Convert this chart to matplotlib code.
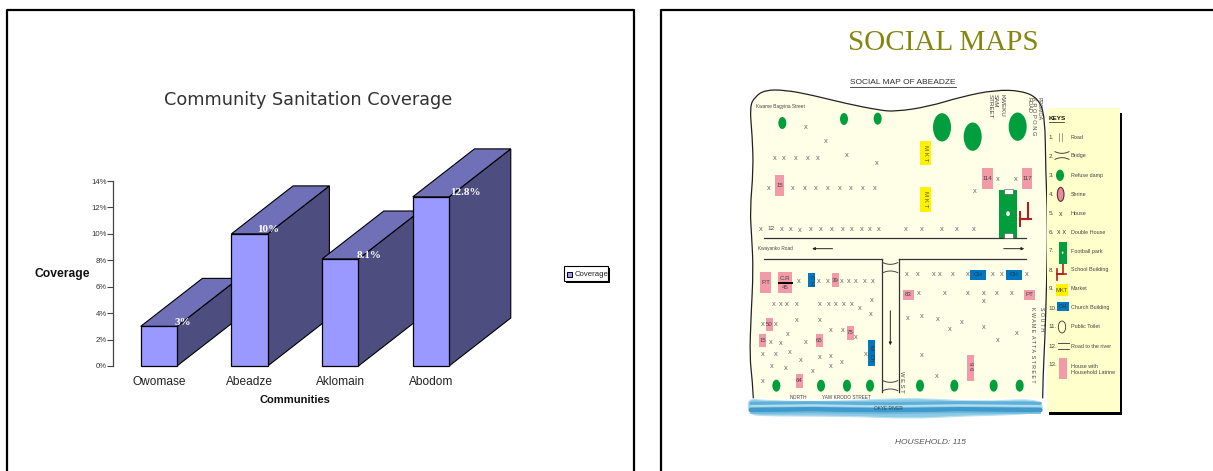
import matplotlib
matplotlib.use("Agg")
import numpy as np
import matplotlib.pyplot as plt
from matplotlib.patches import Ellipse, PathPatch, Polygon, Rectangle
from matplotlib.path import Path

plt.rcParams["font.family"] = ["Liberation Sans", "DejaVu Sans"]

# ---- sanitation coverage ----
communities = ["Owomase", "Abeadze", "Aklomain", "Abodom"]
coverage = [3, 10, 8.1, 12.8]
coverage_labels = ["3%", "10%", "8.1%", "12.8%"]
label_shift = [0.27, 0.21, 0.32, 0.38]
y_ticks = [0, 2, 4, 6, 8, 10, 12, 14]

# ---- social map, in map units; lower half and key rows carry their own offsets ----
houses_north = [(182, 172), (243, 214), (88, 266), (117, 266), (153, 266), (187, 266), (218, 266),
                (304, 256), (396, 281), (70, 356), (143, 355), (178, 355), (213, 355), (248, 355),
                (283, 355), (318, 355), (353, 355), (389, 355), (689, 365), (758, 328), (812, 328),
                (48, 478), (110, 478), (137, 478), (164, 481), (196, 478), (226, 478), (259, 478),
                (292, 478), (319, 478), (349, 478), (375, 478), (401, 478), (483, 478), (530, 478),
                (589, 478), (636, 478), (687, 478)]
houses_south = [(161, 95), (220, 95), (247, 95), (290, 95), (312, 95), (333, 95), (358, 95), (382, 95),
                (87, 164), (107, 164), (126, 164), (154, 164), (224, 164), (250, 164), (272, 164),
                (297, 164), (319, 164), (344, 176), (381, 152), (378, 194), (53, 224), (93, 224),
                (154, 212), (225, 212), (127, 254), (256, 241), (293, 241), (333, 262), (76, 278),
                (108, 281), (182, 278), (53, 314), (92, 314), (135, 308), (166, 332), (223, 323),
                (256, 320), (289, 338), (256, 350), (79, 350), (122, 356), (204, 365), (362, 314),
                (53, 395), (486, 74), (518, 74), (566, 74), (583, 74), (622, 74), (667, 74),
                (744, 74), (769, 74), (844, 74), (522, 131), (599, 131), (669, 131), (716, 131),
                (754, 131), (799, 131), (716, 155), (487, 206), (531, 200), (578, 209), (650, 218),
                (613, 239), (717, 233), (759, 272), (816, 251), (530, 317), (576, 380)]
dumps_north = [(112, 159, 24, 36), (297, 147, 24, 36), (398, 146, 24, 36),
               (591, 172, 54, 85), (683, 200, 54, 85), (818, 170, 54, 85)]
dumps_south = [(94, 407), (228, 407), (306, 407), (375, 407), (525, 407), (628, 407), (746, 407), (824, 407)]
latrines_north = [("15", 90, 315, 27, 63), ("114", 711, 294, 33, 63), ("117", 831, 294, 30, 63)]
latrines_south = [("P.T", 45, 66, 33, 63), ("39", 261, 69, 21, 42), ("83", 474, 120, 33, 30),
                  ("PT", 837, 120, 33, 30), ("50", 63, 204, 21, 39), ("15", 42, 252, 21, 39),
                  ("65", 213, 252, 21, 39), ("75", 306, 228, 21, 42), ("64", 153, 372, 21, 42)]
# boundary of the settlement, walked clockwise from the river on the west side
boundary = [(25, 985), (22, 930), (14, 860), (18, 740), (25, 600), (20, 500), (15, 420), (25, 300),
            (22, 200), (14, 110), (30, 80), (60, 60), (120, 60), (200, 75), (300, 100), (400, 120),
            (450, 125), (550, 110), (650, 80), (750, 60), (830, 62), (880, 85), (900, 140), (902, 300),
            (908, 450), (905, 640), (900, 800), (894, 920), (893, 985)]
key_names = ["Road", "Bridge", "Refuse damp", "Shrine", "House", "Double House", "Football park",
             "School Building", "Market", "Church Building", "Public Toilet", "Road to the river",
             "House with\nHousehold Latrine"]
key_rows = [112, 168, 226, 283, 340, 396, 453, 510, 567, 624, 681, 738, 808]
# vertical street lettering: column, top of the column, text, size
street_columns = [(735, 72, "STREET", 4.5), (752, 72, "SAM", 4.5), (770, 72, "KWEKU", 4.5),
                  (852, 81, "ROAD", 4.0), (867, 81, "K R O P O N G", 4.1), (882, 81, "PROMOA", 3.8),
                  (862, 710, "K W A M E  A T T A  S T R E E T", 3.75), (888, 710, "S O U T H", 3.75)]

W, H = 1213, 471
fig = plt.figure(figsize=(W / 100, H / 100), dpi=100, facecolor="white")

# page frames
page = fig.add_axes([0, 0, 1, 1], xlim=(0, W), ylim=(H, 0))
page.axis("off")
page.plot([7, 7, 634, 634], [H, 10, 10, H], color="black", lw=1.6)
page.plot([661, 661, W], [H, 10, 10], color="black", lw=1.6)
page.text(308, 100, "Community Sanitation Coverage", family="DejaVu Sans", fontsize=12.7,
          ha="center", va="center", color="#333333")
page.text(943, 42.5, "SOCIAL MAPS", family="Liberation Serif", fontsize=21,
          ha="center", va="center", color="#858510")

# legend of the bar chart
page.add_patch(Rectangle((565.5, 268), 44.5, 14.5, fc="black", ec="none"))
page.add_patch(Rectangle((563.5, 266), 44.5, 14.5, fc="white", ec="black", lw=0.8))
page.add_patch(Rectangle((567, 272), 5, 5, fc="#9999FF", ec="black", lw=0.7))
page.text(574.5, 274.3, "Coverage", fontsize=5.6, va="center", color="#222222")

# bar chart: the axis box covers the 0-14% scale and the four category slots
x_left, x_right, y_top, y_bottom = 113.5, 476.3, 181, 366
ax = fig.add_axes([x_left / W, 1 - y_bottom / H, (x_right - x_left) / W, (y_bottom - y_top) / H],
                  facecolor="none")
ax.set_xlim(-0.5, 3.5)
ax.set_ylim(0, 14)
for side in ("top", "right", "bottom"):
    ax.spines[side].set_visible(False)
ax.spines["left"].set_color("#444444")
ax.spines["left"].set_linewidth(0.9)
ax.set_yticks(y_ticks, [f"{t}%" for t in y_ticks], fontsize=5.6, color="#333333")
ax.tick_params(axis="y", length=4, width=0.8, color="#444444", pad=1)
ax.set_xticks(range(4), communities, fontsize=8.6, color="#222222")
ax.tick_params(axis="x", length=0, pad=7)
ax.set_xlabel("Communities", fontsize=8, fontweight="bold", labelpad=5.5, color="#111111")
ax.set_ylabel("Coverage", fontsize=8.7, fontweight="bold", rotation=0, labelpad=21, color="#111111",
              va="center")

half = 0.2
depth_x, depth_y = 0.68, 3.63
for i, (value, text, shift) in enumerate(zip(coverage, coverage_labels, label_shift)):
    l, r = i - half, i + half
    ax.add_patch(Polygon([(r, 0), (r + depth_x, depth_y), (r + depth_x, value + depth_y), (r, value)],
                         fc="#4D4D80", ec="black", lw=0.8, clip_on=False, zorder=3 + i))
    ax.add_patch(Polygon([(l, value), (r, value), (r + depth_x, value + depth_y), (l + depth_x, value + depth_y)],
                         fc="#7070B8", ec="black", lw=0.8, clip_on=False, zorder=3 + i))
    ax.add_patch(Rectangle((l, 0), 2 * half, value, fc="#9999FF", ec="black", lw=0.9,
                           clip_on=False, zorder=3 + i))
    ax.text(i + shift, value + 0.3, text, family="Liberation Serif", fontweight="bold", fontsize=8,
            color="white", ha="center", va="center", zorder=10)

# social map canvas
m = fig.add_axes([745 / W, 1 - 450 / H, 385 / W, 380 / H], xlim=(0, 1155), ylim=(1140, 0), facecolor="none")
m.axis("off")
SOUTH = 540            # vertical offset of the lower half of the map
KEY_X, KEY_Y = 825, 90  # offset of the key panel


def rounded(points, closed=False):
    """Quadratic curve through the midpoints of a control polygon."""
    pts = [np.asarray(p, float) for p in points]
    if closed:
        start = (pts[-1] + pts[0]) / 2
        verts, codes = [start], [Path.MOVETO]
        for k, p in enumerate(pts):
            verts += [p, (p + pts[(k + 1) % len(pts)]) / 2]
            codes += [Path.CURVE3, Path.CURVE3]
        return Path(verts, codes)
    verts, codes = [pts[0]], [Path.MOVETO]
    for k in range(1, len(pts) - 1):
        end = (pts[k] + pts[k + 1]) / 2 if k < len(pts) - 2 else pts[-1]
        verts += [pts[k], end]
        codes += [Path.CURVE3, Path.CURVE3]
    return Path(verts, codes)


def note(x, y, s, size=4.2, color="#444444", rot=0, ha="center", **kw):
    m.text(x, y, s, fontsize=size, color=color, rotation=rot, ha=ha, va="center",
           rotation_mode="anchor", **kw)


def block(x, y, w, h, color):
    m.add_patch(Rectangle((x, y), w, h, fc=color, ec="none", zorder=2))


def school(x, y, s=1.0):
    m.plot([x, x, x - 23 * s], [y - 47 * s, y, y], color="#B02020", lw=1.5 * s, zorder=3)
    m.plot([x + 10 * s, x - 23 * s], [y, y], color="#B02020", lw=1.5 * s, zorder=3)
    m.plot([x - 22 * s, x - 22 * s], [y - 20 * s, y + 22 * s], color="#B02020", lw=1.5 * s, zorder=3)


def bridge(x0, x1, y0, y1):
    xs = np.linspace(x0, x1, 30)
    bend = 5 * ((xs - (x0 + x1) / 2) / ((x1 - x0) / 2)) ** 2
    m.plot(xs, y0 - bend + 5, color="#444444", lw=0.7, zorder=3)
    m.plot(xs, y1 + bend - 5, color="#444444", lw=0.7, zorder=3)


land = rounded(boundary)
m.add_patch(PathPatch(land, fc="#FFFFE8", ec="none", zorder=1))
m.add_patch(PathPatch(land, fc="none", ec="#222222", lw=0.9, zorder=1.2))

# roads
road = dict(color="#333333", lw=0.9, zorder=3)
m.plot([57, 843], [505, 505], **road)
m.plot([57, 412], [568, 568], **road)
m.plot([463, 843], [568, 568], **road)
m.plot([411, 411], [568, 965], **road)
m.plot([463, 463], [568, 965], **road)
bridge(414, 458, 578, 608)
bridge(414, 458, 932, 962)
arrow = dict(arrowstyle="-|>", color="#222222", lw=0.7, mutation_scale=4)
m.annotate("", xy=(193, 536), xytext=(271, 536), arrowprops=arrow, zorder=4)
m.annotate("", xy=(846, 536), xytext=(768, 536), arrowprops=arrow, zorder=4)
m.annotate("", xy=(436, 834), xytext=(436, 714), arrowprops=arrow, zorder=4)

# refuse dumps
for x, y, w, h in dumps_north:
    m.add_patch(Ellipse((x, y), w, h, fc="#009E3C", ec="none", zorder=2))
for x, y in dumps_south:
    m.add_patch(Ellipse((x, y + SOUTH), 24, 36, fc="#009E3C", ec="none", zorder=2))

# houses
for x, y in houses_north:
    note(x, y, "x", size=5.4, color="#666666")
for x, y in houses_south:
    note(x, y + SOUTH, "x", size=5.4, color="#666666")
note(78, 476, "12", size=4.6)

# latrines, market and churches
for s, x, y, w, h in latrines_north:
    block(x, y, w, h, "#F29AA8")
    note(x + w / 2, y + h / 2, s, size=4.4)
for s, x, y, w, h in latrines_south:
    block(x, y + SOUTH, w, h, "#F29AA8")
    note(x + w / 2, y + h / 2 + SOUTH, s, size=4.4)
block(99, 66 + SOUTH, 42, 63, "#F29AA8")
note(120, 86 + SOUTH, "C.R", size=4.4)
m.plot([101, 141], [99 + SOUTH, 99 + SOUTH], color="black", lw=1.4, zorder=4)
note(120, 113 + SOUTH, "45", size=4.4)
block(666, 315 + SOUTH, 21, 78, "#F29AA8")
note(677, 350 + SOUTH, "9 6", size=4.4, rot=-90)
for y, h in [(213, 72), (351, 75)]:
    block(525, y, 33, h, "#FFF200")
    note(542, y + h / 2, "M K T", size=4.4, rot=-90, color="#555500")
for x, y, w, h, s, rot in [(189, 69, 21, 42, "C H", -90), (675, 60, 48, 30, "CH", 0),
                           (783, 60, 48, 30, "CH", 0), (369, 270, 21, 78, "M  Ch", -90)]:
    block(x, y + SOUTH, w, h, "#0077BE")
    note(x + w / 2, y + h / 2 + SOUTH, s, size=4.4, rot=rot, color="#223344")

# football park and school
block(762, 360, 54, 145, "#009E3C")
for y in (358, 490):
    m.add_patch(Rectangle((778, y), 26, 14, fc="white", ec="#444444", lw=0.4, zorder=3))
m.add_patch(Ellipse((789, 431), 11, 15, fc="white", ec="none", zorder=3))
school(848, 447)

# river: pale body with darker currents
river = [(8, 468), (14, 446), (60, 452), (250, 456), (500, 443), (700, 456), (870, 446), (897, 470),
         (880, 492), (650, 498), (500, 506), (300, 498), (40, 498), (14, 490)]
river = [(x, y + SOUTH) for x, y in river]
m.add_patch(PathPatch(rounded(river, closed=True), fc="#8CCAE6", ec="#B8E0F0", lw=0.8, zorder=5))
currents = [(458, 2.2, "#5FB0D8"), (466, 1.3, "#B4DDEF"), (478, 3.4, "#3F9ACB"), (487, 1.2, "#6DB8DC")]
for level, thick, shade in currents:
    m.plot([18, 200, 420, 640, 886], [level + SOUTH + d for d in (2, 0, 3, 0, 2)],
           color=shade, lw=thick, zorder=5.1, solid_capstyle="round")

# street names
note(32, 110, "Kwame Bagyina Street", size=3.4, ha="left", zorder=4)
note(40, 536, "Kwayanko Road", size=3.4, ha="left", zorder=4)
note(135, 982, "NORTH", size=3.6, ha="left", zorder=6)
note(231, 982, "YAW KRODO STREET", size=3.4, ha="left", zorder=6)
note(387, 1015, "OKYE RIVER", size=3.4, ha="left", zorder=6, color="#224455")
note(471, 935, "W E S T", size=4.2, rot=-90, zorder=4)
for column, top, name, size in street_columns:
    note(column, top, name, size=size, rot=-90, ha="left", zorder=4)

# headings
note(473, 36, "SOCIAL MAP OF ABEADZE", size=6, color="#333333")
m.plot([315, 632], [52, 52], color="#333333", lw=0.6)
note(556, 1118, "HOUSEHOLD: 115", size=6, color="#555555", style="italic")

# key panel
m.add_patch(Rectangle((KEY_X + 86, KEY_Y + 40), 220, 905, fc="black", ec="none", zorder=1))
m.add_patch(Rectangle((KEY_X + 80, KEY_Y + 25), 220, 910, fc="#FFFFCC", ec="none", zorder=1.5))
note(KEY_X + 86, KEY_Y + 55, "KEYS", size=4.6, ha="left", color="#111111", fontweight="bold", zorder=4)
m.plot([KEY_X + 86, KEY_X + 132], [KEY_Y + 65, KEY_Y + 65], color="#111111", lw=0.5, zorder=4)
for n, (name, row) in enumerate(zip(key_names, key_rows), start=1):
    num_y = KEY_Y + (row if n < 13 else 795)
    note(KEY_X + 86, num_y, f"{n}.", size=4.5, ha="left", zorder=4)
    note(KEY_X + 152, KEY_Y + row, name, size=3.9, ha="left", zorder=4, linespacing=1.25)

kx, ky = KEY_X, KEY_Y
for dx in (118, 126):
    m.plot([kx + dx, kx + dx], [ky + 100, ky + 124], color="#777777", lw=0.5, zorder=4)
bridge(kx + 105, kx + 147, ky + 155, ky + 178)
m.add_patch(Ellipse((kx + 120, ky + 226), 24, 34, fc="#009E3C", ec="none", zorder=4))
m.add_patch(Ellipse((kx + 122, ky + 283), 20, 42, fc="#E98CA0", ec="#553333", lw=0.8, zorder=4))
note(kx + 122, ky + 342, "x", size=5, zorder=4)
note(kx + 125, ky + 397, "x x", size=5, zorder=4)
m.add_patch(Rectangle((kx + 117, ky + 425), 24, 66, fc="#009E3C", ec="none", zorder=4))
m.add_patch(Ellipse((kx + 128, ky + 458), 5, 7, fc="white", ec="none", zorder=5))
school(kx + 130, ky + 522, s=0.8)
m.add_patch(Rectangle((kx + 108, ky + 553), 36, 34, fc="#FFF200", ec="none", zorder=4))
note(kx + 126, ky + 571, "MKT", size=4.2, color="#555500", zorder=5)
m.add_patch(Rectangle((kx + 112, ky + 607), 36, 25, fc="#0077BE", ec="none", zorder=4))
note(kx + 130, ky + 619, "CH", size=4.2, color="#223344", zorder=5)
m.add_patch(Ellipse((kx + 126, ky + 681), 22, 36, fc="none", ec="#333333", lw=0.6, zorder=4))
for y in (730, 748):
    m.plot([kx + 113, kx + 147], [ky + y, ky + y], color="#333333", lw=0.6, zorder=4)
m.add_patch(Rectangle((kx + 117, ky + 775), 24, 62, fc="#F29AA8", ec="none", zorder=4))

fig.savefig("out.png", dpi=100)
